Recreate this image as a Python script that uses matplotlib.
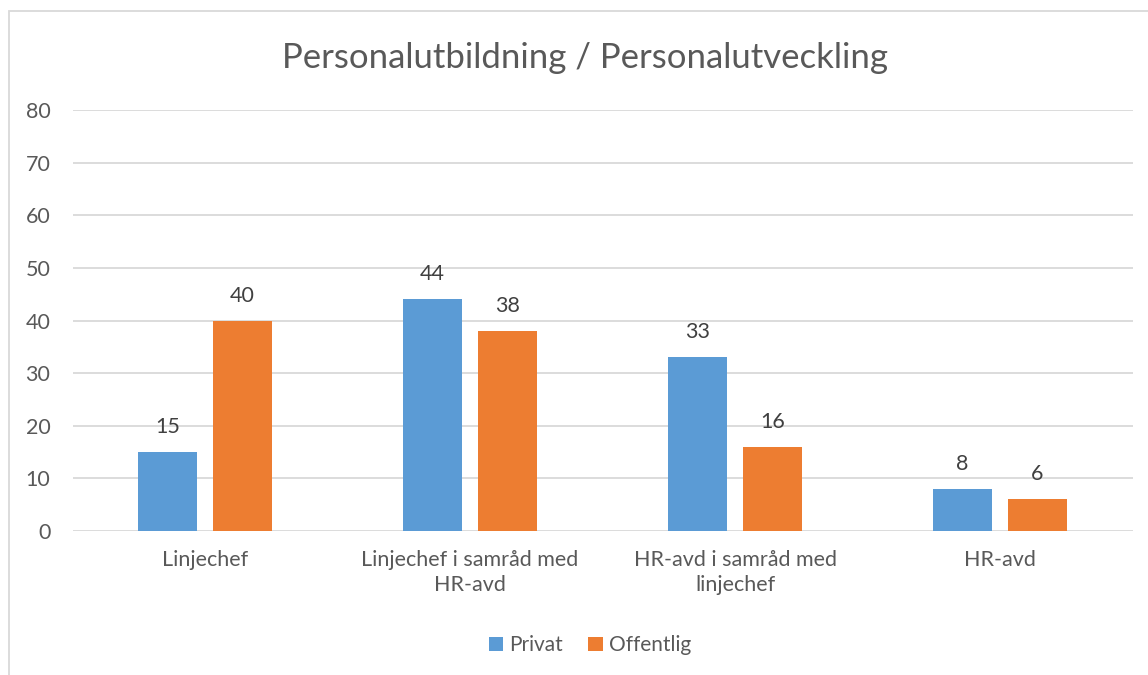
import numpy as np
import matplotlib.pyplot as plt
from matplotlib.patches import Rectangle

categories = ["Linjechef", "Linjechef i samråd med\nHR-avd",
              "HR-avd i samråd med\nlinjechef", "HR-avd"]
privat = [15, 44, 33, 8]
offentlig = [40, 38, 16, 6]
series_names = ["Privat", "Offentlig"]
yticks = [0, 10, 20, 30, 40, 50, 60, 70, 80]

BLUE = "#5b9bd5"
ORANGE = "#ed7d31"
TEXT = "#595959"
GRID = "#d9d9d9"

plt.rcParams['font.family'] = ['Lato', 'DejaVu Sans']

fig = plt.figure(figsize=(11.48, 6.75), dpi=100)
fig.patches.append(Rectangle((9 / 1148, -0.1), 1.2, 1.1 - 11 / 675,
                             transform=fig.transFigure, fill=False,
                             edgecolor=GRID, linewidth=1.3))

ax = fig.add_axes([0.0632, 0.2133, 0.9233, 0.6237])
x = np.arange(len(categories))
w = 0.223
off = 0.1415
b1 = ax.bar(x - off, privat, w, color=BLUE, label=series_names[0], zorder=3)
b2 = ax.bar(x + off, offentlig, w, color=ORANGE, label=series_names[1], zorder=3)

# value labels above each bar
for bars, vals in ((b1, privat), (b2, offentlig)):
    for b, v in zip(bars, vals):
        ax.annotate(str(v), (b.get_x() + b.get_width() / 2, v),
                    xytext=(0, 18), textcoords="offset points",
                    ha="center", va="center", fontsize=15.5, color="#404040")

ax.set_xlim(-0.5, len(categories) - 0.5)
ax.set_ylim(0, 80)
ax.set_yticks(yticks)
ax.set_xticks(x)
ax.set_xticklabels(categories, fontsize=15.5, color=TEXT, linespacing=1.3)
ax.tick_params(axis="y", labelsize=15.5, labelcolor=TEXT, length=0, pad=16)
ax.tick_params(axis="x", length=0, pad=14)
ax.grid(axis="y", color=GRID, linewidth=1.3, zorder=0)
for s in ax.spines.values():
    s.set_visible(False)

fig.text(0.5095, 0.914, "Personalutbildning / Personalutveckling",
         ha="center", va="center", fontsize=25, color=TEXT)

fig.legend(handles=[b1, b2], loc="center", bbox_to_anchor=(0.514, 0.044),
           ncol=2, frameon=False, fontsize=15, labelcolor=TEXT,
           handlelength=0.7, handleheight=0.7, handletextpad=0.3,
           columnspacing=1.2)

fig.savefig("out.png", dpi=100)
